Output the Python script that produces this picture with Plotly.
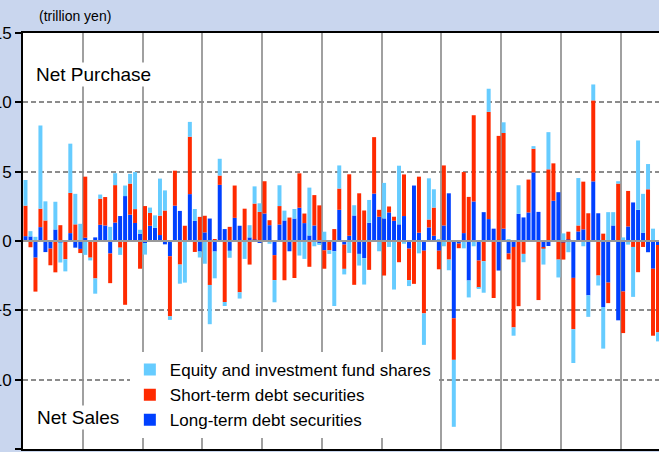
import plotly.graph_objects as go

# Monthly net purchases (+) / net sales (-), trillion yen
long_term = [0.35, 0.33, -1.2, 1.0, -0.8, -0.55, 0.83, -0.1, -0.05, 0.57, -0.48, -0.57,
             0.24, 0, 0.26, 1.17, 1.12, -0.9, 1.33, 1.8, 3.24, 1.9, 1.3, 0.52,
             -0.15, 1.1, 0.95, 0.43, -0.24, -1.1, 2.55, 2.17, 0, 3.38, 1.45, -0.76,
             0.62, 1.62, -0.76, 4.05, 0.86, -0.71, 1.67, 1.1, 0, 0.26, 0.1, -0.1,
             1.98, 1.14, -1.02, 1.19, 1.48, -0.74, 1.62, 2.4, 1.29, 0.4, 1.12, -0.19,
             -0.67, 0, -0.74, 2.25, -0.26, 0.38, 1.84, -0.93, -1.24, 1.31, 3.42, 1.75,
             1.63, 2.06, 1.46, 1.2, 1.8, -0.55, 4.0, 0.6, -0.7, 0.98, 0.38, -0.7,
             1.12, 3.44, -5.57, -0.19, 0.57, -2.85, 2.85, -1.41, 2.08, 1.58, 0.89, -2.13,
             0.89, -0.9, -0.43, 1.96, 1.7, 2.06, 4.95, 2.1, -0.48, -0.36, 2.9, 3.52,
             -0.1, 0.1, -2.66, 0.69, 0.84, -3.92, 4.3, 2.0, -4.76, -3.0, 1.12, -5.72,
             -3.64, 1.05, 2.78, 2.25, 0.6, -0.81, -2.0, -0.29]
short_term = [2.2, -0.45, -2.45, 1.33, 1.48, -1.2, -2.26, 1.14, -1.26, 2.9, 1.2, -0.3,
              4.4, -1.2, -2.7, 1.88, 2.05, -2.14, 2.7, -0.48, -4.6, 2.24, 1.0, -2.0,
              2.52, 0.93, 0, 1.4, 2.2, -4.33, 2.52, -1.7, 1.1, 4.14, -0.79, 1.74,
              1.2, -3.17, 0.1, 0.67, -4.4, 1.02, 2.33, -3.7, 2.33, -1.7, 2.6, 2.1,
              2.33, 0.36, -1.8, 1.33, -2.83, 1.69, -2.67, 2.48, 0.69, -1.86, 2.19, 2.57,
              -1.33, -0.67, 0.86, 1.53, -1.75, 4.43, -3.16, 3.44, 2.2, -2.08, 4.07, 0.5,
              -2.49, 0.43, 0.29, -1.53, 3.0, -2.27, -3.09, 4.04, -4.52, 0.57, 2.03, -1.34,
              4.33, -1.34, -3.0, -0.33, 4.4, 3.18, 6.22, -1.96, -1.46, 7.73, -4.11, 7.58,
              6.9, -0.43, -5.8, -4.7, -0.93, 2.37, 1.7, -4.26, -0.07, 5.17, 2.7, -1.34,
              -1.24, 0.57, -3.7, 0.43, 3.44, 2.0, 5.84, -2.49, 0.53, -1.48, 0, 4.14,
              -3.0, 2.56, -0.43, -2.25, -0.43, 3.73, -4.83, -6.3]
equity = [1.85, 0.38, 0.3, 6.0, 1.38, 0, 2.0, -1.45, -0.88, 3.55, 2.2, 1.24,
          -1.0, -0.2, -1.1, 0.3, 0, 1.02, 0.86, -0.52, 0.76, 0.7, 2.67, 0.29,
          -0.83, 0.38, 0.9, 2.67, 1.45, -0.26, 0, -1.38, -3.0, 1.07, 0.86, -0.43,
          -1.64, -2.83, -1.93, 1.21, -0.29, -0.5, 0, -0.45, -1.29, 0.88, 1.24, 0.62,
          0, -0.2, -1.6, 1.5, 0.71, 0, 0.69, -1.05, -1.29, 3.45, -0.38, -0.1,
          0.67, -0.26, -3.95, 1.67, -0.4, -0.86, 0.74, -0.84, -1.9, 1.65, 0, -0.74,
          2.56, -0.43, -3.5, 4.23, -0.2, -0.43, 0, -0.89, -2.27, 2.97, 1.32, 0.1,
          -0.38, -0.77, -4.83, 0, -0.53, -1.22, -0.38, -0.05, -2.27, 1.67, 0, 0,
          0.77, 0.14, -0.6, 2.06, -0.6, 0, 0.19, 0, -1.15, 2.68, 0, -1.29,
          0.55, -0.81, -2.44, 3.42, -0.38, -1.55, 1.15, -0.72, -3.0, 2.08, 0.96, 0.17,
          0.26, -0.26, -3.6, 5.0, 2.8, 1.82, 0.89, -0.65]
months = list(range(len(long_term)))

y_ticks = [-15, -10, -5, 0, 5, 10, 15]

FONT = "Liberation Sans, Arial, sans-serif"

fig = go.Figure()
fig.add_trace(go.Bar(x=months, y=long_term, name="Long-term debt securities",
                     marker=dict(color="#0040FF", line=dict(width=0))))
fig.add_trace(go.Bar(x=months, y=short_term, name="Short-term debt securities",
                     marker=dict(color="#FF2A00", line=dict(width=0))))
fig.add_trace(go.Bar(x=months, y=equity, name="Equity and investment fund shares",
                     marker=dict(color="#66CCFF", line=dict(width=0))))

fig.update_layout(
    width=659, height=452,
    margin=dict(l=23, r=0, t=33, b=3, autoexpand=False),
    paper_bgcolor="#c9d6ee",
    plot_bgcolor="white",
    barmode="relative",
    bargap=0.2,
    font=dict(family=FONT, color="black"),
    showlegend=True,
    legend=dict(x=0.168, xanchor="left", y=0.233, yanchor="top",
                traceorder="reversed",
                bgcolor="white", borderwidth=0,
                font=dict(family=FONT, size=17, color="black")),
    xaxis=dict(range=[-0.5, 127.2], tick0=-0.5, dtick=12, tickmode="linear",
               showticklabels=False, ticks="", automargin=False,
               showgrid=True, gridcolor="#a0a0a0", gridwidth=2,
               zeroline=False, showline=True, linecolor="black", linewidth=2, mirror=True),
    yaxis=dict(range=[-15, 15], tickvals=y_ticks, ticks="outside", ticklen=6,
               tickwidth=1.5, tickcolor="black", automargin=False,
               tickfont=dict(family=FONT, size=17, color="black"),
               ticklabelstandoff=0,
               showgrid=True, gridcolor="#8c8c8c", gridwidth=1.5, griddash="5px,3px",
               zeroline=False, showline=True, linecolor="black", linewidth=2, mirror=True),
    shapes=[dict(type="line", xref="paper", x0=0, x1=1, yref="y", y0=0, y1=0,
                 line=dict(color="#9a9a9a", width=2), layer="above")],
    annotations=[
        dict(text="(trillion yen)", xref="paper", yref="paper", x=0.022, y=1.0409,
             xanchor="left", yanchor="middle", showarrow=False,
             font=dict(family=FONT, size=14, color="black")),
        dict(text="Net Purchase", xref="paper", yref="paper", x=0.0173, y=0.9014,
             xanchor="left", yanchor="middle", showarrow=False, bgcolor="white",
             font=dict(family=FONT, size=19, color="black")),
        dict(text="Net Sales", xref="paper", yref="paper", x=0.0193, y=0.0769,
             xanchor="left", yanchor="middle", showarrow=False, bgcolor="white",
             font=dict(family=FONT, size=19, color="black")),
    ],
)

fig.write_html("out.html",
               config={"displayModeBar": False},
               post_script="document.body.style.margin='0';document.body.style.background='#c9d6ee';")
